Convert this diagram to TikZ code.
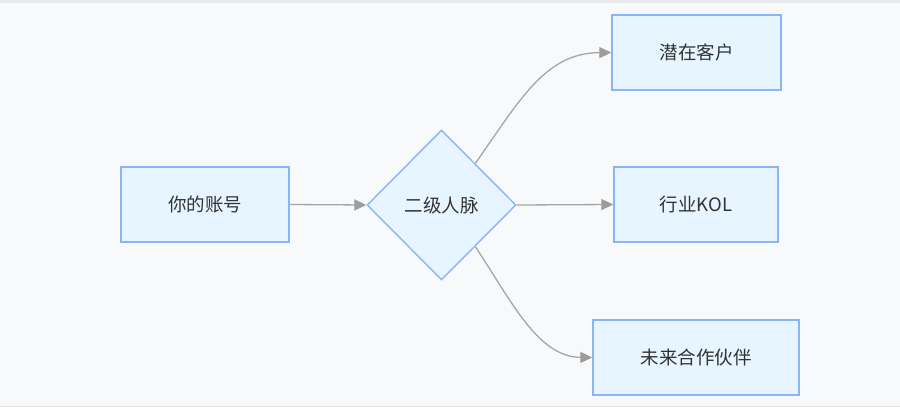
\documentclass[tikz,border=0pt]{standalone}
\usepackage{fontspec}
\newfontfamily\cjk{Noto Sans CJK SC}
\usetikzlibrary{shapes.geometric,arrows.meta,calc}
\definecolor{bgc}{HTML}{F8F9FB}
\definecolor{topband}{HTML}{E8EAED}
\definecolor{botline}{HTML}{E0E1E3}
\definecolor{nodefill}{HTML}{E6F5FF}
\definecolor{nodeline}{HTML}{8AB4F8}
\definecolor{edgec}{HTML}{A6A6A6}
\definecolor{tipc}{HTML}{9C9C9C}
\definecolor{txt}{HTML}{333333}
\begin{document}
\begin{tikzpicture}[x=1pt,y=-1pt,
  box/.style={draw=nodeline,fill=nodefill,line width=1.4pt,rectangle,minimum height=75pt,inner sep=0pt,text=txt,font=\cjk\fontsize{18.5}{20}\selectfont},
  dia/.style={draw=nodeline,fill=nodefill,line width=1.4pt,diamond,aspect=1,minimum width=149pt,minimum height=150pt,inner sep=0pt,text=txt,font=\cjk\fontsize{18.5}{20}\selectfont},
  edge/.style={draw=edgec,line width=1.3pt,-{Triangle[length=12pt,width=11pt,fill=tipc,color=tipc]}}]
\useasboundingbox (0,0) rectangle (900,415);
\fill[white] (0,0) rectangle (900,415);
\fill[bgc] (0,3) rectangle (900,406);
\fill[topband] (0,0) rectangle (900,3);
\fill[botline] (0,405.5) rectangle (900,407);
\node[box,minimum width=168pt] (a) at (205,204.5) {你的账号};
\node[dia] (d) at (441.5,205) {二级人脉};
\node[box,minimum width=169pt] (t) at (696.5,52.5) {潜在客户};
\node[box,minimum width=164pt] (k) at (696,204.5) {行业KOL};
\node[box,minimum width=206pt] (b) at (696,357.5) {未来合作伙伴};
\draw[edge] (a.east) -- (d.west);
\draw[edge] (d.east) -- (k.west);
\coordinate (ds1) at ($(d.north)!0.45!(d.east)$);
\coordinate (ds2) at ($(d.south)!0.45!(d.east)$);
\draw[edge] (ds1) .. controls (520,100) and (545,53) .. (t.west);
\draw[edge] (ds2) .. controls (512,302) and (538,357) .. (b.west);
\end{tikzpicture}
\end{document}
